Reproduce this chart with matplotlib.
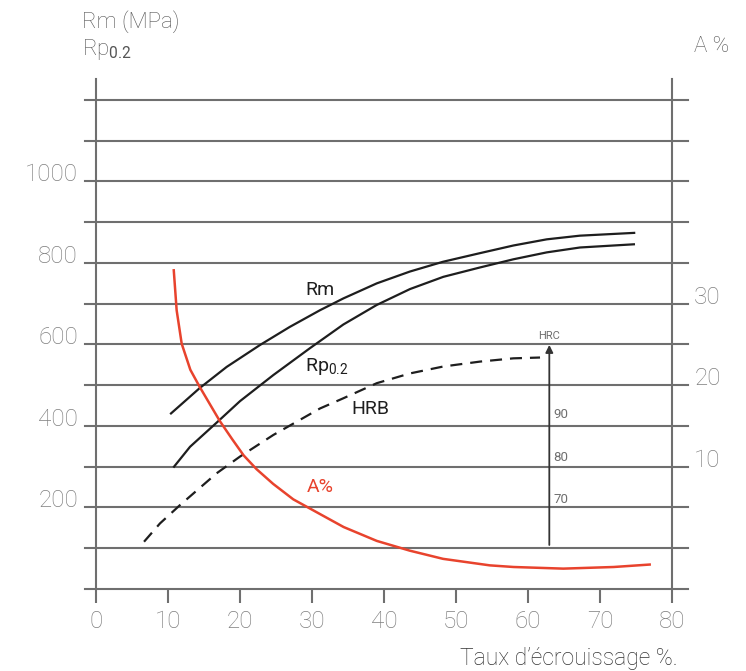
import matplotlib
matplotlib.use("Agg")
import matplotlib.pyplot as plt

plt.rcParams['font.family'] = ['Roboto', 'DejaVu Sans']
plt.rcParams['mathtext.fontset'] = 'custom'
plt.rcParams['mathtext.rm'] = 'Roboto'
plt.rcParams['mathtext.it'] = 'Roboto:italic'

# courbes (taux d'écrouissage %, MPa)
taux_rm = [10.3, 14.4, 18.15, 22.8, 26.9, 31.1, 34.35, 39.0, 43.6, 48.2, 53.3,
           58.0, 62.6, 67.2, 74.9]
rm = [429, 493, 545, 599, 643, 684, 713, 750, 779, 803, 824, 843, 858, 867, 874]

taux_rp = [10.74, 13.06, 16.99, 20.0, 24.63, 29.72, 34.35, 38.99, 43.61, 48.24,
           53.33, 57.96, 62.6, 67.22, 74.86]
rp02 = [298, 349, 412, 461, 525, 591, 649, 697, 736, 766, 789, 809, 826, 838, 846]

taux_hrb = [6.67, 8.89, 11.67, 16.76, 20.0, 24.63, 31.11, 34.35, 38.99, 43.61,
            48.24, 53.33, 57.96, 61.67]
hrb = [116, 161, 206, 284, 325, 378, 443, 468, 505, 529, 546, 558, 566, 568]

# allongement A% (axe de droite)
taux_a = [10.8, 11.2, 11.9, 13.1, 14.4, 15.8, 17.2, 18.9, 20.5, 22.3, 24.6,
          27.4, 31.1, 34.4, 39.0, 43.6, 48.2, 54.7, 58.0, 64.9, 71.9, 76.9]
a_pct = [34.1, 29.2, 25.1, 21.9, 19.8, 17.7, 15.6, 13.4, 11.4, 9.7, 7.9,
         6.0, 4.2, 2.6, 0.9, -0.3, -1.3, -2.1, -2.3, -2.5, -2.3, -2.0]

grid_mpa = [0, 100, 200, 300, 400, 500, 600, 700, 800, 900, 1000, 1100, 1200]
left_ticks = [200, 400, 600, 800, 1000]
right_ticks = [10, 20, 30]
x_ticks = [0, 10, 20, 30, 40, 50, 60, 70, 80]

# échelle HRC le long de la flèche
hrc_x = 62.96
hrc_levels = ['70', '80', '90']
hrc_mpa = [220, 323, 429]

grey = '#6f6f6f'
lab_grey = '#7f7f7f'
ink = '#1e1e1e'
red = '#e8432d'

fig = plt.figure(figsize=(7.46, 6.71), dpi=100)
ax = fig.add_axes([0.1287, 0.1222, 0.7721, 0.7601])
ax.set_xlim(0, 80)
ax.set_ylim(0, 1251.5)

for g in grid_mpa:
    ax.plot([-1.55, 82.2], [g, g], color=grey, lw=1.5, clip_on=False, zorder=1)

for s in ['top', 'bottom']:
    ax.spines[s].set_visible(False)
for s in ['left', 'right']:
    ax.spines[s].set_color(grey)
    ax.spines[s].set_linewidth(1.5)

ax.set_xticks(x_ticks)
ax.tick_params(axis='x', length=10, width=1.5, color=grey, labelcolor=lab_grey,
               labelsize=17.5, pad=5)
ax.set_yticks(left_ticks)
ax.tick_params(axis='y', length=0, labelcolor=lab_grey, labelsize=17.5, pad=13)
for lbl in ax.get_xticklabels() + ax.get_yticklabels():
    lbl.set_fontweight('light')
for lbl in ax.get_yticklabels():
    lbl.set_va('baseline')

ax2 = ax.twinx()
ax2.set_ylim((0 - 100) / 20, (1251.5 - 100) / 20)
ax2.set_yticks(right_ticks)
ax2.tick_params(axis='y', length=0, labelcolor=lab_grey, labelsize=17.5, pad=16)
for s in ax2.spines.values():
    s.set_visible(False)
for lbl in ax2.get_yticklabels():
    lbl.set_fontweight('light')
    lbl.set_va('baseline')

line_kw = dict(lw=1.6, zorder=3, solid_joinstyle='round', solid_capstyle='butt')
ax.plot(taux_rm, rm, color=ink, **line_kw)
ax.plot(taux_rp, rp02, color=ink, **line_kw)
ax.plot(taux_hrb, hrb, color=ink, lw=1.6, dashes=(5.4, 3.6), zorder=3,
        dash_joinstyle='round')
ax2.plot(taux_a, a_pct, color=red, lw=1.8, zorder=3, solid_joinstyle='round')

ax.annotate('', xy=(hrc_x, 599), xytext=(hrc_x, 108),
            arrowprops=dict(arrowstyle='-|>', color='#333333', lw=1.3,
                            mutation_scale=11, shrinkA=0, shrinkB=0))
ax.text(hrc_x, 621, 'HRC', ha='center', va='center', fontsize=8, color=grey)
for s, v in zip(hrc_levels, hrc_mpa):
    ax.text(hrc_x + 0.6, v, s, ha='left', va='center', fontsize=9.5, color=grey)

ax.text(31.1, 734, 'Rm', ha='center', va='center', fontsize=14, color=ink)
ax.text(29.0, 545, r'Rp$_{0.2}$', ha='left', va='center', fontsize=14, color=ink)
ax.text(38.1, 442, 'HRB', ha='center', va='center', fontsize=14, color=ink)
ax.text(31.1, 250, 'A%', ha='center', va='center', fontsize=14, color=red)

fig.text(82 / 746, 1 - 22 / 671, 'Rm (MPa)', va='center', fontsize=16,
         color='#555555', fontweight='light')
fig.text(82 / 746, 1 - 50 / 671, r'Rp$_{0.2}$', va='center', fontsize=16,
         color='#555555', fontweight='light')
fig.text(712 / 746, 1 - 46 / 671, 'A %', ha='center', va='center', fontsize=16,
         color='#555555', fontweight='light')
fig.text(678 / 746, 1 - 658 / 671, 'Taux d’écrouissage %.', ha='right', va='center',
         fontsize=16.5, color='#333333', fontweight='light')

fig.savefig('out.png', dpi=100)
